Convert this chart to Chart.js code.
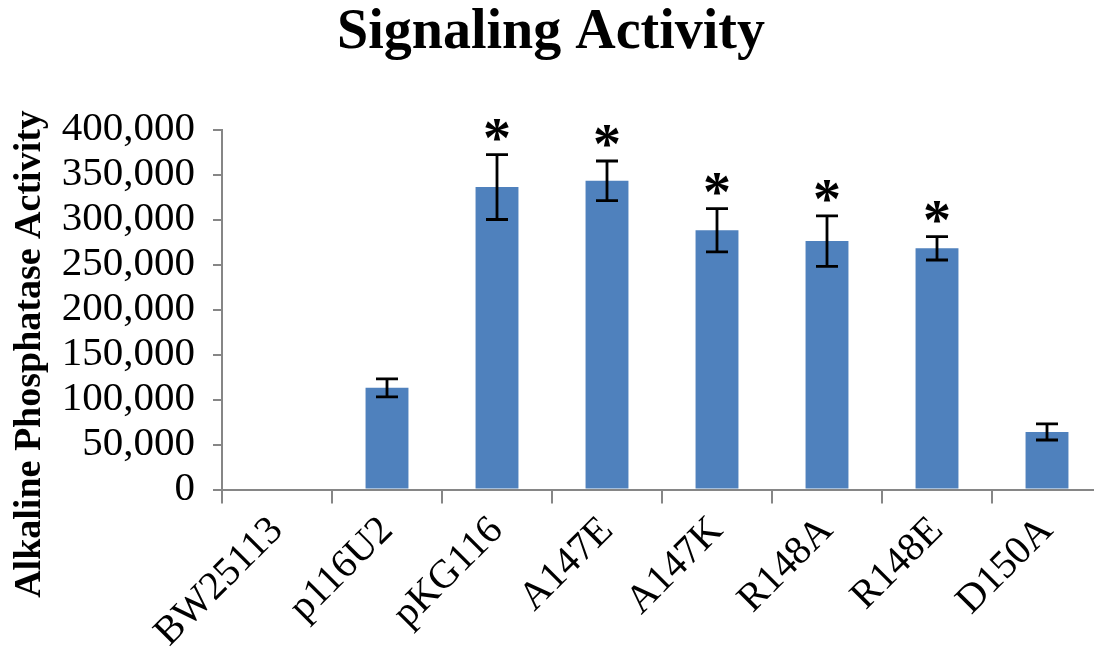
<!DOCTYPE html>
<html>
<head>
<meta charset="utf-8">
<title>Signaling Activity</title>
<script src="https://cdn.jsdelivr.net/npm/chart.js@4/dist/chart.umd.min.js"></script>
<style>
  html, body { margin: 0; padding: 0; background: #ffffff; overflow: hidden; }
  #wrap { width: 1110px; height: 656px; }
</style>
</head>
<body>
<div id="wrap"><canvas id="chart" width="1110" height="656"></canvas></div>
<script>
// Strains / constructs on the x axis
const categories = ['BW25113', 'p116U2', 'pKG116', 'A147E', 'A147K', 'R148A', 'R148E', 'D150A'];
// Mean alkaline phosphatase activity
const activity = [0, 113000, 336000, 343000, 288000, 276000, 268000, 64000];
// Error (± one deviation) for each mean
const errors = [0, 10000, 36000, 22000, 24000, 28000, 13000, 9000];
// Significance markers drawn above the error bars
const markers = ['', '', '*', '*', '*', '*', '*', ''];
// Y axis ticks
const yTicks = [0, 50000, 100000, 150000, 200000, 250000, 300000, 350000, 400000];

const titleText = 'Signaling Activity';
const yTitleText = 'Alkaline Phosphatase Activity';

const SERIF = '"Liberation Serif", "Times New Roman", Times, serif';
const AXIS_GREY = '#868686';
const BAR_BLUE = '#4f81bd';

// Error bars with caps plus significance markers
const errorBarPlugin = {
  id: 'errorBars',
  afterDatasetsDraw(chart) {
    const ctx = chart.ctx;
    const meta = chart.getDatasetMeta(0);
    const y = chart.scales.y;
    ctx.save();
    meta.data.forEach((bar, i) => {
      const v = activity[i];
      const e = errors[i];
      const x = bar.x;
      let topPx = y.getPixelForValue(v);
      if (e > 0) {
        const hi = y.getPixelForValue(v + e);
        const lo = y.getPixelForValue(v - e);
        const cap = 11;
        ctx.strokeStyle = '#000000';
        ctx.lineWidth = 2.8;
        ctx.beginPath();
        ctx.moveTo(x, hi); ctx.lineTo(x, lo);
        ctx.moveTo(x - cap, hi); ctx.lineTo(x + cap, hi);
        ctx.moveTo(x - cap, lo); ctx.lineTo(x + cap, lo);
        ctx.stroke();
        topPx = hi;
      }
      if (markers[i]) {
        ctx.font = 'bold 56px ' + SERIF;
        ctx.fillStyle = '#000000';
        ctx.textAlign = 'center';
        ctx.textBaseline = 'alphabetic';
        const m = ctx.measureText(markers[i]);
        const centerY = topPx - 25;
        const base = centerY + (m.actualBoundingBoxAscent - m.actualBoundingBoxDescent) / 2;
        ctx.fillText(markers[i], x, base);
      }
    });
    ctx.restore();
  }
};

// Rotated y-axis title
const yTitlePlugin = {
  id: 'yTitle',
  afterDraw(chart) {
    const ctx = chart.ctx;
    ctx.save();
    ctx.translate(40, 354);
    ctx.rotate(-Math.PI / 2);
    ctx.font = 'bold 38px ' + SERIF;
    ctx.fillStyle = '#000000';
    ctx.textAlign = 'center';
    ctx.textBaseline = 'alphabetic';
    ctx.fillText(yTitleText, 0, 0);
    ctx.restore();
  }
};

new Chart(document.getElementById('chart'), {
  type: 'bar',
  data: {
    labels: categories,
    datasets: [{
      data: activity,
      backgroundColor: BAR_BLUE,
      borderWidth: 0,
      barPercentage: 0.39,
      categoryPercentage: 1.0
    }]
  },
  options: {
    responsive: false,
    animation: false,
    devicePixelRatio: 1,
    layout: { padding: { left: 0, right: 8, top: 0, bottom: 0 } },
    plugins: {
      legend: { display: false },
      tooltip: { enabled: false },
      title: {
        display: true,
        text: titleText,
        color: '#000000',
        font: { family: SERIF, size: 56, weight: 'bold', lineHeight: 1.0 },
        padding: { top: 6, bottom: 67.5 }
      }
    },
    scales: {
      x: {
        grid: {
          display: true,
          drawOnChartArea: false,
          drawTicks: true,
          tickLength: 14,
          color: AXIS_GREY,
          lineWidth: 2,
          offset: true
        },
        border: { display: true, color: AXIS_GREY, width: 2 },
        ticks: {
          color: '#000000',
          font: { family: SERIF, size: 40 },
          minRotation: 45,
          maxRotation: 45,
          padding: 4,
          autoSkip: false
        },
        afterFit(scale) { scale.height = 166.5; }
      },
      y: {
        min: 0,
        max: 400000,
        afterBuildTicks(scale) { scale.ticks = yTicks.map(v => ({ value: v })); },
        grid: {
          display: true,
          drawOnChartArea: false,
          drawTicks: true,
          tickLength: 9,
          color: AXIS_GREY,
          lineWidth: 2
        },
        border: { display: true, color: AXIS_GREY, width: 2 },
        ticks: {
          color: '#000000',
          font: { family: SERIF, size: 41 },
          padding: 18,
          autoSkip: false,
          callback: (v) => Number(v).toLocaleString('en-US')
        },
        afterFit(scale) { scale.width = 222; }
      }
    }
  },
  plugins: [errorBarPlugin, yTitlePlugin]
});
</script>
</body>
</html>
